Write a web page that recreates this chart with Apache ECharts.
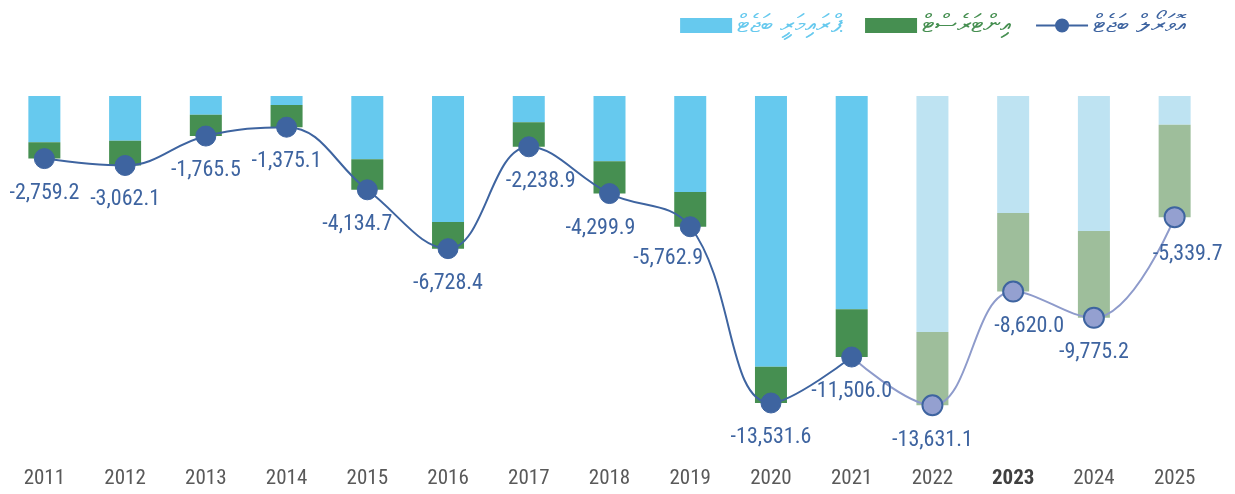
<!DOCTYPE html>
<html>
<head>
<meta charset="utf-8">
<script src="https://cdn.jsdelivr.net/npm/echarts@6/dist/echarts.min.js"></script>
<style>
  html, body { margin: 0; padding: 0; background: #fff; }
  #chart { width: 1235px; height: 494px; }
</style>
</head>
<body>
<div id="chart"></div>
<script>
var years = ['2011','2012','2013','2014','2015','2016','2017','2018','2019','2020','2021','2022','2023','2024','2025'];
// primary balance (blue), interest (green), overall balance (line)
var primary = [-2041, -1970, -824, -397, -2791, -5554, -1161, -2879, -4232, -11931, -9403, -10403, -5157, -5951, -1265];
var interest = [-718, -1092, -941, -978, -1344, -1174, -1078, -1421, -1531, -1600, -2103, -3228, -3463, -3824, -4075];
var overall = [-2759.2, -3062.1, -1765.5, -1375.1, -4134.7, -6728.4, -2238.9, -4299.9, -5762.9, -13531.6, -11506.0, -13631.1, -8620.0, -9775.2, -5339.7];
var firstProjection = 11; // 2022 onwards drawn lighter

var names = ['ޕްރައިމަރީ ބަޖެޓް', 'އިންޓަރެސްޓް', 'އޮވަރޯލް ބަޖެޓް'];
var font = "'Roboto Condensed','Liberation Sans Narrow',Roboto,sans-serif";

var chart = echarts.init(document.getElementById('chart'));

function barData(arr, dark, light) {
    return arr.map(function (v, i) {
        return { value: v, itemStyle: { color: i >= firstProjection ? light : dark } };
    });
}

// nudge a few labels sideways like the original
var labelShift = { 4: [-10, 0], 6: [12, 0], 7: [-9, 0], 8: [-22, -3], 12: [16, 0], 14: [13, 2] };

var actualLine = overall.map(function (v, i) {
    if (i >= firstProjection) return '-';
    var d = { value: v };
    if (labelShift[i]) d.label = { offset: labelShift[i] };
    return d;
});
var projLine = overall.map(function (v, i) {
    if (i < firstProjection - 1) return '-';
    if (i === firstProjection - 1) return { value: v, symbol: 'none', label: { show: false } };
    var d = { value: v };
    if (labelShift[i]) d.label = { offset: labelShift[i] };
    return d;
});

var lineLabel = {
    show: true,
    position: 'bottom',
    distance: 13,
    color: '#3E64A0',
    fontSize: 22,
    fontFamily: font,
    formatter: function (p) {
        return p.value.toLocaleString('en-US', { minimumFractionDigits: 1, maximumFractionDigits: 1 });
    }
};

var option = {
    animation: false,
    legend: {
        top: 8,
        right: 44,
        itemWidth: 52,
        itemHeight: 15,
        itemGap: 24,
        textStyle: { fontSize: 25 },
        data: [
            { name: names[0], icon: 'rect', itemStyle: { color: '#66C9EE' }, textStyle: { color: '#66C9EE' } },
            { name: names[1], icon: 'rect', itemStyle: { color: '#468F51' }, textStyle: { color: '#468F51' } },
            { name: names[2], textStyle: { color: '#3E64A0' } }
        ]
    },
    grid: { left: 4, right: 20, top: 96, bottom: 35 },
    xAxis: {
        type: 'category',
        data: years,
        axisLine: { show: false },
        axisTick: { show: false },
        axisLabel: {
            interval: 0,
            color: '#595959',
            fontSize: 21,
            fontFamily: font,
            margin: 9,
            formatter: function (v) { return v === '2023' ? '{b|' + v + '}' : v; },
            rich: { b: { fontWeight: 'bold', color: '#404040', fontSize: 21, fontFamily: font } }
        }
    },
    yAxis: {
        type: 'value',
        min: -16000,
        max: 0,
        show: false,
        splitLine: { show: false }
    },
    series: [
        {
            name: names[0],
            type: 'bar',
            stack: 'bal',
            barWidth: 32,
            data: barData(primary, '#66C9EE', '#BEE3F2')
        },
        {
            name: names[1],
            type: 'bar',
            stack: 'bal',
            barWidth: 32,
            data: barData(interest, '#468F51', '#9EBE9B')
        },
        {
            name: names[2],
            type: 'line',
            smooth: 0.4,
            symbol: 'circle',
            symbolSize: 20,
            z: 5,
            lineStyle: { color: '#3E64A0', width: 2 },
            itemStyle: { color: '#3E64A0', borderColor: '#3E64A0', borderWidth: 1 },
            label: lineLabel,
            data: actualLine
        },
        {
            name: names[2],
            type: 'line',
            smooth: 0.4,
            symbol: 'circle',
            symbolSize: 20,
            z: 4,
            lineStyle: { color: '#8E9BCB', width: 2 },
            itemStyle: { color: '#94A0D0', borderColor: '#3E64A0', borderWidth: 2 },
            label: lineLabel,
            data: projLine
        }
    ]
};

chart.setOption(option);
window.addEventListener('resize', function () { chart.resize(); });
</script>
</body>
</html>
